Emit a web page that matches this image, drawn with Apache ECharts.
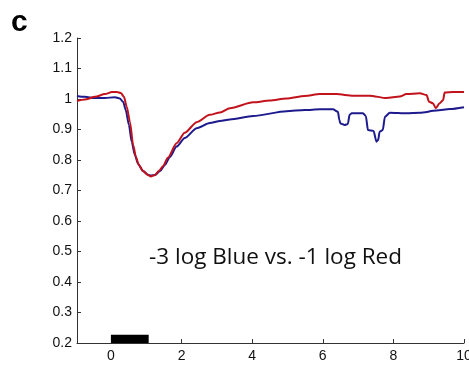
<!DOCTYPE html>
<html><head><meta charset="utf-8">
<script src="https://cdn.jsdelivr.net/npm/echarts@6/dist/echarts.min.js"></script>
<style>html,body{margin:0;padding:0;background:#fff}#c{width:469px;height:366px}</style>
</head><body><div id="c"></div>
<script>
const blueX = [-0.96,-0.74,-0.45,-0.17,0.11,0.25,0.35,0.42,0.51,0.59,0.68,0.77,0.91,1.05,1.13,1.25,1.39,1.53,1.67,1.86,2.09,2.43,2.80,3.09,3.37,4.03,4.97,5.49,5.92,6.29,6.43,6.47,6.50,6.62,6.71,6.76,6.82,7.14,7.22,7.28,7.44,7.52,7.57,7.61,7.70,7.76,7.90,8.37,8.75,9.22,9.60,10.0];
const blueY = [1.010,1.007,1.003,1.003,1.006,1.002,0.990,0.964,0.915,0.859,0.816,0.787,0.764,0.752,0.749,0.751,0.764,0.784,0.810,0.844,0.872,0.904,0.921,0.928,0.933,0.944,0.960,0.964,0.966,0.966,0.958,0.931,0.920,0.915,0.918,0.948,0.953,0.953,0.944,0.898,0.895,0.860,0.866,0.893,0.898,0.942,0.955,0.953,0.955,0.962,0.967,0.973];
const redX = [-0.96,-0.74,-0.45,-0.17,0.03,0.17,0.28,0.37,0.45,0.54,0.63,0.71,0.79,0.91,1.05,1.13,1.25,1.36,1.48,1.61,1.86,2.09,2.43,2.80,3.09,3.37,4.03,4.50,4.97,5.49,5.92,6.39,6.86,7.33,7.80,8.18,8.37,8.75,8.94,9.01,9.12,9.20,9.31,9.41,9.45,9.69,10.0];
const redY = [0.993,0.998,1.007,1.016,1.023,1.023,1.020,1.007,0.974,0.925,0.849,0.810,0.784,0.764,0.751,0.746,0.751,0.764,0.780,0.807,0.855,0.889,0.924,0.948,0.956,0.970,0.989,0.995,1.002,1.010,1.016,1.016,1.011,1.011,1.003,1.008,1.016,1.019,1.013,0.991,0.986,0.970,0.986,0.997,1.021,1.023,1.023];
const stimStart = 0, stimEnd = 1.07, stimBottom = 0.2, stimTop = 0.227;
const xTicks = [0,2,4,6,8,10];
const yTicks = [0.2,0.3,0.4,0.5,0.6,0.7,0.8,0.9,1,1.1,1.2];
const annotation = '-3 log Blue vs. -1 log Red';
const panelLetter = 'c';

const zip = (a,b)=>a.map((v,i)=>[v,b[i]]);
const chart = echarts.init(document.getElementById('c'));
const FONT = 'Liberation Sans, Arial, Helvetica, sans-serif';
chart.setOption({
  animation:false,
  grid:{left:77,right:5,top:38,bottom:23,containLabel:false,outerBoundsMode:'none'},
  xAxis:{type:'value',min:-0.96,max:10,
    axisLine:{show:true,onZero:false,lineStyle:{color:'#333',width:1}},
    axisTick:{inside:true,length:4,lineStyle:{color:'#333'},customValues:xTicks},
    axisLabel:{color:'#111',fontSize:14,fontFamily:FONT,margin:6,customValues:xTicks,showMinLabel:true,showMaxLabel:true,hideOverlap:false},
    splitLine:{show:false}},
  yAxis:{type:'value',min:0.2,max:1.2,
    axisLine:{show:true,onZero:false,lineStyle:{color:'#333',width:1}},
    axisTick:{inside:true,length:4,lineStyle:{color:'#333'},customValues:yTicks},
    axisLabel:{color:'#111',fontSize:14,fontFamily:FONT,margin:5,customValues:yTicks,
      formatter:v=>String(Math.round(v*10)/10)},
    splitLine:{show:false}},
  series:[
    {type:'line',data:zip(blueX,blueY),showSymbol:false,smooth:0.25,smoothMonotone:'x',
      lineStyle:{color:'#1c1a8c',width:2},itemStyle:{color:'#1c1a8c'},z:2,
      markArea:{silent:true,itemStyle:{color:'#000',opacity:1},
        data:[[{coord:[stimStart,stimBottom]},{coord:[stimEnd,stimTop]}]]}},
    {type:'line',data:zip(redX,redY),showSymbol:false,smooth:0.25,smoothMonotone:'x',
      lineStyle:{color:'#c2121c',width:2},itemStyle:{color:'#c2121c'},z:3}
  ],
  graphic:[
    {type:'text',left:11,top:8,style:{text:panelLetter,font:'bold 30px '+FONT,fill:'#000'}},
    {type:'text',x:275.5,y:258,style:{text:annotation,font:'22.5px "Open Sans", sans-serif',fill:'#111',textAlign:'center',textVerticalAlign:'middle'}}
  ]
});
</script></body></html>
